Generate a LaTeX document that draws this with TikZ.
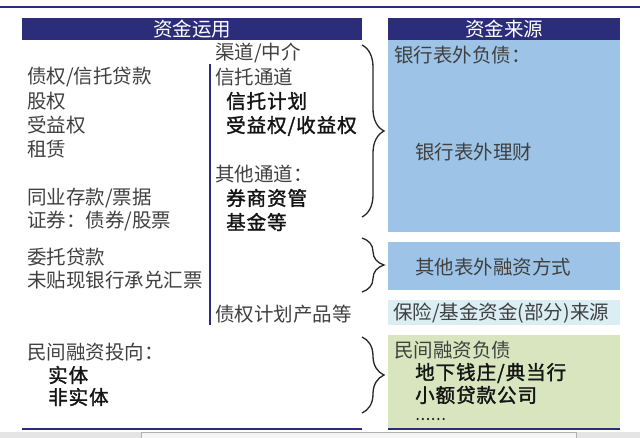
\documentclass[tikz,border=0pt]{standalone}
\usepackage{fontspec}
\setmainfont{Noto Sans CJK SC}
\newfontfamily\heavycjk{Noto Sans CJK SC}[LetterSpace=5,FakeBold=1.6]
\usetikzlibrary{decorations.pathreplacing}
\definecolor{navy}{RGB}{43,45,122}
\definecolor{skyfill}{RGB}{157,196,230}
\definecolor{palecyan}{RGB}{219,238,244}
\definecolor{palegreen}{RGB}{216,229,190}
\newcommand{\cell}[3]{\fill[#1] #2 rectangle #3;}

\begin{document}
\begin{tikzpicture}[x=1pt,y=-1pt,
  txt/.style={anchor=west,inner sep=0pt,text=black!75,font=\fontsize{19.5}{20}\selectfont},
  bld/.style={txt,text=black!92,font=\fontsize{19.5}{20}\selectfont\heavycjk},
  head/.style={text=white,inner sep=0pt,font=\fontsize{19.5}{20}\selectfont},
  brc/.style={decorate,decoration={brace,amplitude=22pt},line width=1.3pt,black!85}]
\useasboundingbox (0,0) rectangle (640,438);
\draw[navy,line width=2pt] (0,7)--(640,7);
% headers
\cell{navy}{(22,18)}{(362,40)}
\cell{navy}{(388,18)}{(620,40)}
\node[head] (use) at (192,29) {资金运用};
\node[head] (src) at (504,29) {资金来源};
% source cells
\cell{skyfill}{(388,40)}{(620,232)}
\cell{skyfill}{(388,242)}{(620,290)}
\cell{palecyan}{(388,300)}{(620,325)}
\cell{palegreen}{(388,335)}{(620,428)}
\draw[navy,line width=2pt] (22,429)--(362,429) (388,429)--(620,429);
% left column
\node[txt] (zq) at (27,77) {债权/信托贷款};
\node[txt] (gq) at (27,101) {股权};
\node[txt] (syq) at (27,125) {受益权};
\node[txt] (zl) at (27,149) {租赁};
\node[txt] (ty) at (27,198) {同业存款/票据};
\node[txt] (zj) at (27,221) {证券：债券/股票};
\node[txt] (wt) at (27,257) {委托贷款};
\node[txt] (wtx) at (27,280) {未贴现银行承兑汇票};
\node[txt] (mj) at (27,352) {民间融资投向：};
\node[bld] (st) at (48,375) {实体};
\node[bld] (fst) at (48,397) {非实体};
% middle column
\draw[navy,line width=1.8pt] (210,64)--(210,325);
\node[txt] (qd) at (215,53) {渠道/中介};
\node[txt] (xt) at (215,77) {信托通道};
\node[bld] (xtjh) at (226,101) {信托计划};
\node[bld] (syqq) at (226,126) {受益权/收益权};
\node[txt] (qt) at (215,174) {其他通道：};
\node[bld] (qs) at (226,198) {券商资管};
\node[bld] (jj) at (226,222) {基金等};
\node[txt] (zqjh) at (215,314) {债权计划产品等};
% right column
\node[txt] (bw) at (394,55) {银行表外负债：};
\node[txt] (lc) at (415,152) {银行表外理财};
\node[txt] (qtbw) at (415,267) {其他表外融资方式};
\node[txt] (bx) at (393,313) {保险/基金资金(部分)来源};
\node[txt] (mjfz) at (394,350) {民间融资负债};
\node[bld] (dx) at (415,373) {地下钱庄/典当行};
\node[bld] (xe) at (415,395) {小额贷款公司};
\node[bld,font=\fontsize{14}{14}\selectfont\heavycjk] (dots) at (415,419) {……};
% braces
\coordinate (b1a) at (362,45);\coordinate (b1b) at (362,217);
\coordinate (b2a) at (362,238);\coordinate (b2b) at (362,292);
\coordinate (b3a) at (362,337);\coordinate (b3b) at (362,413);
\draw[brc] (b1a)--(b1b);
\draw[brc] (b2a)--(b2b);
\draw[brc] (b3a)--(b3b);
% bottom bar
\fill[black!10] (0,432) rectangle (640,438);
\draw[black!30,fill=black!4] (141,432.5) rectangle (576,438);
\end{tikzpicture}
\end{document}
